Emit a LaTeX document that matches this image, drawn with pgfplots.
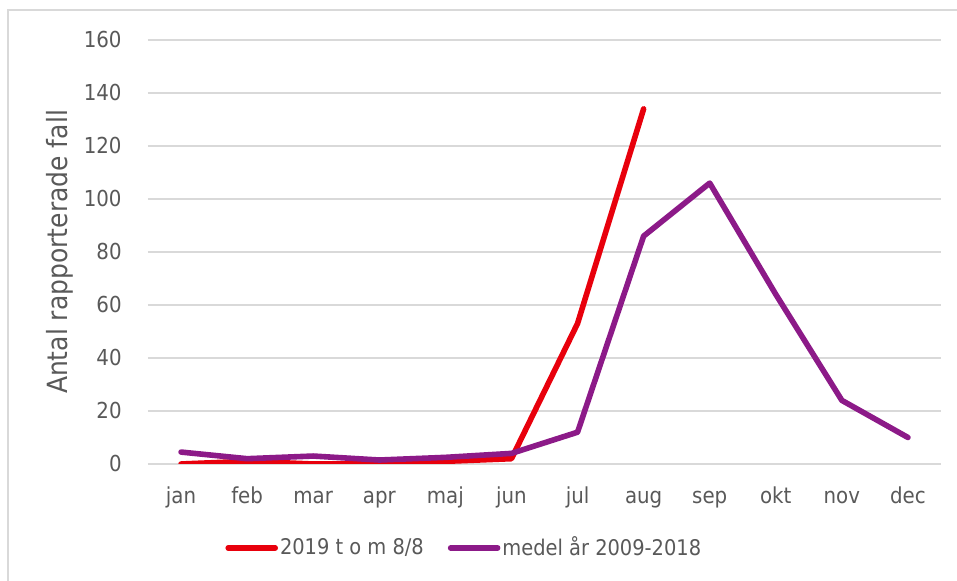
\documentclass[border=0pt]{standalone}
\usepackage{pgfplots}
\pgfplotsset{compat=1.18}
\usepackage{fontspec}
\setmainfont{DejaVu Sans Condensed}
\definecolor{redS}{RGB}{232,0,12}
\definecolor{purpS}{RGB}{140,26,136}
\definecolor{gridc}{RGB}{217,217,217}
\definecolor{txt}{RGB}{89,89,89}
\begin{document}
\begin{tikzpicture}
\useasboundingbox (0,0) rectangle (478.5pt,290.5pt);
\draw[gridc, line width=0.7pt] (4pt,0) -- (4pt,285.5pt) -- (478.5pt,285.5pt);
\begin{axis}[
  at={(74pt,58.5pt)}, anchor=south west,
  scale only axis, width=396.5pt, height=212pt,
  xmin=-0.5, xmax=11.5, ymin=0, ymax=160,
  xtick={0,1,...,11},
  xticklabels={jan,feb,mar,apr,maj,jun,jul,aug,sep,okt,nov,dec},
  ytick={0,20,...,160},
  ymajorgrids, grid style={gridc, line width=1pt},
  axis line style={draw=none},
  tick style={draw=none},
  /pgf/number format/assume math mode=true,
  ticklabel style={font=\fontsize{11pt}{13pt}\selectfont, text=txt},
  yticklabel style={inner sep=0pt, xshift=-13pt, anchor=east},
  xticklabel style={inner sep=0pt, anchor=base, yshift=-20pt},
  ylabel={Antal rapporterade fall},
  ylabel style={at={(axis description cs:-0.111,0.5)}, anchor=center, rotate=0,
    font=\fontsize{13.9pt}{16pt}\selectfont, text=txt},
  legend columns=2,
  legend style={at={(0.0971,-0.198)}, anchor=west, draw=none, fill=none,
    inner sep=0pt, font=\fontsize{10.8pt}{13pt}\selectfont, text=txt,
    nodes={inner sep=1pt},
    /tikz/every even column/.append style={column sep=11pt}},
  legend image code/.code={\draw[#1] (0pt,0pt) -- (23.5pt,0pt);},
]
\addplot[redS, line width=2.8pt, line cap=round, line join=round]
  coordinates {(0,0) (1,1) (2,0) (3,0) (4,1) (5,2) (6,53) (7,134)};
\addlegendentry{2019 t o m 8/8}
\addplot[purpS, line width=2.8pt, line cap=round, line join=round]
  coordinates {(0,4.5) (1,2) (2,3) (3,1.5) (4,2.5) (5,4) (6,12) (7,86) (8,106) (9,64) (10,24) (11,10)};
\addlegendentry{medel år 2009-2018}
\end{axis}
\end{tikzpicture}
\end{document}
